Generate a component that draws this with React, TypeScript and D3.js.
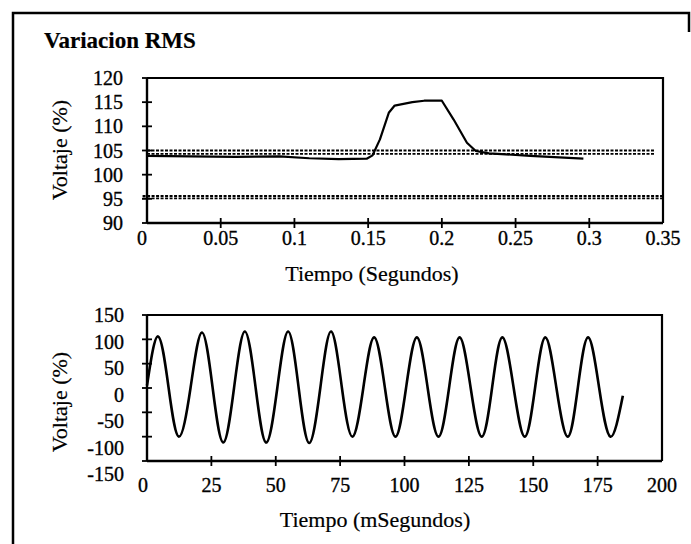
import React from "react";
import * as d3 from "d3";

// ---- Data ----
const rmsTime = [0, 0.03, 0.06, 0.09, 0.11, 0.13, 0.149, 0.153, 0.158, 0.164, 0.168, 0.18, 0.188, 0.2, 0.208, 0.217, 0.223, 0.232, 0.26, 0.296];
const rmsValue = [103.9, 103.8, 103.7, 103.8, 103.4, 103.2, 103.3, 104, 107.3, 112.8, 114.3, 115, 115.3, 115.3, 111.4, 106.6, 104.9, 104.4, 103.9, 103.3];

const upperLimits = [105.0, 104.3];
const lowerLimits = [95.6, 95.1];

const topXTicks = [0, 0.05, 0.1, 0.15, 0.2, 0.25, 0.3, 0.35];
const topYTicks = [90, 95, 100, 105, 110, 115, 120];

const waveTime = [0, 4.3, 8.4, 12.4, 16.9, 21.3, 25.5, 29.6, 33.8, 38, 42.2, 46.3, 50.6, 54.8, 58.9, 63, 67.3, 71.5, 75.7, 79.8, 84, 88.2, 92.4, 96.5, 100.6, 104.8, 109, 113.2, 117.3, 121.4, 125.7, 130, 134, 138, 142.4, 146.7, 150.7, 154.7, 159, 163.4, 167.3, 171.3, 175.6, 180, 184.8];
const waveValue = [5, 106, 0, -100, 0, 114, 0, -112, 0, 116, 0, -112, 0, 116, 0, -113, 0, 116, 0, -100, 0, 104, 0, -100, 0, 104, 0, -100, 0, 104, 0, -100, 0, 104, 0, -100, 0, 104, 0, -100, 0, 104, 0, -100, -16];

const botXTicks = [0, 25, 50, 75, 100, 125, 150, 175, 200];
const botYTicks = [-150, -100, -50, 0, 50, 100, 150];

const FONT = "'Liberation Serif', 'Times New Roman', serif";

export default function App() {
  const W = 691, H = 544;

  const x1 = d3.scaleLinear().domain([0, 0.35]).range([147, 663]);
  const y1 = d3.scaleLinear().domain([90, 120]).range([223, 78]);
  const x2 = d3.scaleLinear().domain([0, 200]).range([147, 662]);
  const y2 = d3.scaleLinear().domain([-150, 150]).range([461, 315]);
  // the scanned tick labels of the lower chart sit on a slightly longer span than the ticks
  const y2Label = d3.scaleLinear().domain([-150, 150]).range([474, 315]);

  const rmsLine = d3.line<number>().x((d, i) => x1(rmsTime[i])).y((d) => y1(d))(rmsValue) || "";
  const waveLine =
    d3.line<number>().x((d, i) => x2(waveTime[i])).y((d) => y2(d)).curve(d3.curveNatural)(waveValue) || "";

  const tk = 5;
  const tickFs = 20;
  const titleFs = 22;
  const txt = { fontFamily: FONT, fill: "#000", stroke: "#000", strokeWidth: 0.35 } as const;

  const topLabelX = (t: number) => x1(t) + (t === 0 ? -5 : 0);
  const botLabelX = (t: number) => x2(t) + (t === 0 ? -4 : 0);

  return (
    <svg width={W} height={H} style={{ position: "absolute", left: 0, top: 0, background: "#fff" }}>
      <rect x={0} y={0} width={W} height={H} fill="#fff" />
      <path d={`M13,544 V13 H689 V32`} fill="none" stroke="#000" strokeWidth={2.5} />

      <text x={44} y={48} fontWeight="bold" fontSize={23} {...txt} strokeWidth={0.2}>
        Variacion RMS
      </text>

      {/* ---------- Top chart ---------- */}
      <g>
        {upperLimits.map((v, i) => (
          <line key={"u" + i} x1={x1(0)} x2={x1(0.344)} y1={y1(v)} y2={y1(v)} stroke="#000" strokeWidth={1.9} strokeDasharray="3,1.5" />
        ))}
        {lowerLimits.map((v, i) => (
          <line key={"l" + i} x1={x1(-0.003)} x2={x1(0.35)} y1={y1(v)} y2={y1(v)} stroke="#000" strokeWidth={1.9} strokeDasharray="3,1.5" />
        ))}
        <path d={rmsLine} fill="none" stroke="#000" strokeWidth={2.2} strokeLinejoin="round" />

        <path d={`M${x1(0)},${y1(120)} H${x1(0.35)} V${y1(90)}`} fill="none" stroke="#000" strokeWidth={2.2} />
        <line x1={x1(0)} x2={x1(0.35)} y1={y1(90)} y2={y1(90)} stroke="#000" strokeWidth={2.4} />
        <line x1={x1(0)} x2={x1(0)} y1={y1(120)} y2={y1(90)} stroke="#000" strokeWidth={2.4} />

        {topYTicks.map((t) => (
          <g key={"ty" + t}>
            <line x1={x1(0) - tk} x2={x1(0) + tk} y1={y1(t)} y2={y1(t)} stroke="#000" strokeWidth={1.8} />
            <text x={123} y={y1(t)} dy="0.35em" textAnchor="end" fontSize={tickFs} {...txt}>
              {t}
            </text>
          </g>
        ))}
        {topXTicks.map((t) => (
          <g key={"tx" + t}>
            {t > 0 && t < 0.35 && (
              <line x1={x1(t)} x2={x1(t)} y1={y1(90) - tk} y2={y1(90) + tk} stroke="#000" strokeWidth={1.8} />
            )}
            <text x={topLabelX(t)} y={245} textAnchor="middle" fontSize={tickFs} {...txt}>
              {String(t)}
            </text>
          </g>
        ))}
        <text x={372} y={281} textAnchor="middle" fontSize={titleFs} {...txt} strokeWidth={0.2}>
          Tiempo (Segundos)
        </text>
        <text transform={`translate(67,150) rotate(-90)`} textAnchor="middle" fontSize={titleFs} {...txt} strokeWidth={0.2}>
          Voltaje (%)
        </text>
      </g>

      {/* ---------- Bottom chart ---------- */}
      <g>
        <path d={waveLine} fill="none" stroke="#000" strokeWidth={2.6} strokeLinejoin="round" />
        <path d={`M${x2(0)},${y2(150)} H${x2(200)} V${y2(-150)}`} fill="none" stroke="#000" strokeWidth={2.2} />
        <line x1={x2(0)} x2={x2(200)} y1={y2(-150)} y2={y2(-150)} stroke="#000" strokeWidth={2.4} />
        <line x1={x2(0)} x2={x2(0)} y1={y2(150)} y2={y2(-150)} stroke="#000" strokeWidth={2.4} />
        {botYTicks.map((t) => (
          <g key={"by" + t}>
            <line x1={x2(0) - tk} x2={x2(0) + tk} y1={y2(t)} y2={y2(t)} stroke="#000" strokeWidth={1.8} />
            <text x={124} y={y2Label(t)} dy="0.35em" textAnchor="end" fontSize={tickFs} {...txt}>
              {t}
            </text>
          </g>
        ))}
        {botXTicks.map((t) => (
          <g key={"bx" + t}>
            {t > 0 && t < 200 && (
              <line x1={x2(t)} x2={x2(t)} y1={y2(-150) - tk} y2={y2(-150) + tk} stroke="#000" strokeWidth={1.8} />
            )}
            <text x={botLabelX(t)} y={492} textAnchor="middle" fontSize={tickFs} {...txt}>
              {t}
            </text>
          </g>
        ))}
        <text x={375} y={527} textAnchor="middle" fontSize={titleFs} {...txt} strokeWidth={0.2}>
          Tiempo (mSegundos)
        </text>
        <text transform={`translate(67,402) rotate(-90)`} textAnchor="middle" fontSize={titleFs} {...txt} strokeWidth={0.2}>
          Voltaje (%)
        </text>
      </g>
    </svg>
  );
}
